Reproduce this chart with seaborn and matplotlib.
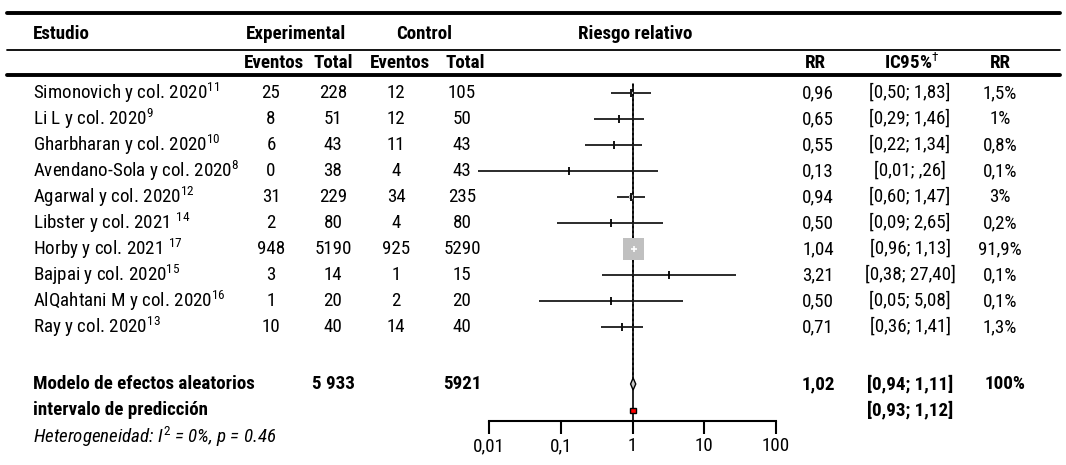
import numpy as np
import pandas as pd
import matplotlib
matplotlib.use('Agg')
import matplotlib.pyplot as plt
from matplotlib import font_manager
import seaborn as sns

# data
studies = ['Simonovich y col. 2020$^{11}$', 'Li L y col. 2020$^{9}$', 'Gharbharan y col. 2020$^{10}$',
           'Avendano-Sola y col. 2020$^{8}$', 'Agarwal y col. 2020$^{12}$', 'Libster y col. 2021 $^{14}$',
           'Horby y col. 2021 $^{17}$', 'Bajpai y col. 2020$^{15}$', 'AlQahtani M y col. 2020$^{16}$',
           'Ray y col. 2020$^{13}$']
exp_events = [25, 8, 6, 0, 31, 2, 948, 3, 1, 10]
exp_total = [228, 51, 43, 38, 229, 80, 5190, 14, 20, 40]
ctrl_events = [12, 12, 11, 4, 34, 4, 925, 1, 2, 14]
ctrl_total = [105, 50, 43, 43, 235, 80, 5290, 15, 20, 40]
rr = [0.96, 0.65, 0.55, 0.13, 0.94, 0.50, 1.04, 3.21, 0.50, 0.71]
ci_lo = [0.50, 0.29, 0.22, 0.007, 0.60, 0.09, 0.96, 0.38, 0.05, 0.36]
ci_hi = [1.83, 1.46, 1.34, 2.26, 1.47, 2.65, 1.13, 27.40, 5.08, 1.41]
ci_text = ['[0,50; 1,83]', '[0,29; 1,46]', '[0,22; 1,34]', '[0,01; ,26]', '[0,60; 1,47]',
           '[0,09; 2,65]', '[0,96; 1,13]', '[0,38; 27,40]', '[0,05; 5,08]', '[0,36; 1,41]']
weights = [1.5, 1.0, 0.8, 0.1, 3.0, 0.2, 91.9, 0.1, 0.1, 1.3]

pooled_rr, pooled_lo, pooled_hi = 1.02, 0.94, 1.11
pred_lo, pred_hi = 0.93, 1.12
pooled_exp_total, pooled_ctrl_total = '5 933', '5921'
ticks = [0.01, 0.1, 1, 10, 100]
tick_labels = ['0,01', '0,1', '1', '10', '100']

df = pd.DataFrame({'study': studies, 'rr': rr, 'lo': ci_lo, 'hi': ci_hi, 'w': weights})

sns.set_theme(style='white')
# pick a narrow sans that is actually installed
installed = {f.name for f in font_manager.fontManager.ttflist}
wanted = ['Liberation Sans Narrow', 'Roboto Condensed', 'DejaVu Sans Condensed', 'Liberation Sans']
main_font = next((f for f in wanted if f in installed), 'DejaVu Sans')
plt.rcParams['font.family'] = [main_font, 'DejaVu Sans']
plt.rcParams['mathtext.fontset'] = 'custom'
plt.rcParams['mathtext.rm'] = main_font
plt.rcParams['mathtext.it'] = main_font + ':italic'
plt.rcParams['mathtext.bf'] = main_font + ':bold'
plt.rcParams['text.color'] = 'black'
plt.rcParams['xtick.color'] = 'black'

W, H = 1066, 465
fig = plt.figure(figsize=(W / 100, H / 100), dpi=100)
bg = fig.add_axes([0, 0, 1, 1])
bg.set_xlim(0, W)
bg.set_ylim(H, 0)
bg.axis('off')

fs = 13.7
row_y = 93 + 26 * np.arange(len(studies))
y_pool, y_pred, y_het = 384, 410, 437
x_name, x_ee, x_et, x_ce, x_ct = 33, 271, 333, 396, 462
x_rr, x_ci, x_w = 818, 910, 1000

# table rules
bg.plot([7, 1060], [13, 13], color='black', lw=2.8)
bg.plot([7, 1060], [50, 50], color='black', lw=1.3)
bg.plot([7, 1060], [75, 75], color='black', lw=2.8)

# headers
hd = dict(fontsize=fs, fontweight='bold', va='center')
bg.text(x_name, 34, 'Estudio', ha='left', **hd)
bg.text(296, 34, 'Experimental', ha='center', **hd)
bg.text(424, 34, 'Control', ha='center', **hd)
bg.text(578, 34, 'Riesgo relativo', ha='left', **hd)
for x, s in [(x_ee + 3, 'Eventos'), (x_et, 'Total'), (x_ce + 4, 'Eventos'), (x_ct + 3, 'Total'),
             (x_rr - 3, 'RR'), (x_ci + 2, r'IC95%$^{\dag}$'), (x_w, 'RR')]:
    bg.text(x, 63, s, ha='center', **hd)

# study rows
for i, y in enumerate(row_y):
    bg.text(x_name, y, studies[i], ha='left', va='center', fontsize=fs)
    bg.text(x_ee, y, str(exp_events[i]), ha='center', va='center', fontsize=fs)
    bg.text(x_et, y, str(exp_total[i]), ha='center', va='center', fontsize=fs)
    bg.text(x_ce, y, str(ctrl_events[i]), ha='center', va='center', fontsize=fs)
    bg.text(x_ct, y, str(ctrl_total[i]), ha='center', va='center', fontsize=fs)
    bg.text(x_rr, y, f'{rr[i]:.2f}'.replace('.', ','), ha='center', va='center', fontsize=fs)
    bg.text(x_ci, y, ci_text[i], ha='center', va='center', fontsize=fs)
    bg.text(x_w, y, f'{weights[i]:g}%'.replace('.', ','), ha='center', va='center', fontsize=fs)

# summary rows
sb = dict(fontsize=fs, fontweight='bold', va='center')
bg.text(x_name, y_pool, 'Modelo de efectos aleatorios', ha='left', **sb)
bg.text(x_name, y_pred, 'intervalo de predicción', ha='left', **sb)
bg.text(x_et, y_pool, pooled_exp_total, ha='center', **sb)
bg.text(x_ct, y_pool, pooled_ctrl_total, ha='center', **sb)
bg.text(x_rr, y_pool, f'{pooled_rr:.2f}'.replace('.', ','), ha='center', **sb)
bg.text(x_ci, y_pool, f'[{pooled_lo:.2f}; {pooled_hi:.2f}]'.replace('.', ','), ha='center', **sb)
bg.text(x_w + 5, y_pool, '100%', ha='center', **sb)
bg.text(x_ci, y_pred, f'[{pred_lo:.2f}; {pred_hi:.2f}]'.replace('.', ','), ha='center', **sb)
bg.text(x_name, y_het, r'Heterogeneidad: $\mathit{I}^{2}$ = 0%, $\mathit{p}$ = 0.46',
        ha='left', va='center', fontsize=fs, style='italic')

# forest panel, y in pixel units so rows line up with the table
x0, x1, ybot, ytop = 489, 776, 421, 80
ax = fig.add_axes([x0 / W, (H - ybot) / H, (x1 - x0) / W, (ybot - ytop) / H])
ax.set_xscale('log')
ax.set_xlim(0.01, 100)
ax.set_ylim(ybot, ytop)
ax.patch.set_alpha(0)
for s in ['left', 'right', 'top']:
    ax.spines[s].set_visible(False)
ax.spines['bottom'].set_linewidth(1.5)
ax.spines['bottom'].set_color('black')
ax.set_xticks(ticks)
ax.set_xticklabels(tick_labels, fontsize=fs)
ax.minorticks_off()
ax.tick_params(axis='x', direction='out', length=9.5, width=1.5, pad=2, color='black', bottom=True)
ax.set_yticks([])

ax.plot([1, 1], [84, ybot], color='black', lw=1.2, clip_on=False)
ax.plot([pooled_rr, pooled_rr], [84, y_pool - 6], color='black', lw=1.1, ls=(0, (1.6, 1.6)))

df['y'] = row_y
ax.hlines(df['y'], df['lo'], df['hi'], color='#1a1a1a', lw=1.3, clip_on=False)
sq = 240 * df['w'] / df['w'].max()
ax.scatter(df['rr'], df['y'], s=sq, marker='s', color='#c0c0c0', lw=0, zorder=3)
small = df[df['w'] < 50]
big = df[df['w'] >= 50]
sns.scatterplot(data=small, x='rr', y='y', marker='|', s=40, color='black', linewidth=1.3,
                ax=ax, zorder=4, legend=False)
sns.scatterplot(data=big, x='rr', y='y', marker='+', s=25, color='white', linewidth=1.2,
                ax=ax, zorder=4, legend=False)
ax.set_xlabel('')
ax.set_ylabel('')

dh = 6
ax.fill([pooled_lo, pooled_rr, pooled_hi, pooled_rr], [y_pool, y_pool - dh, y_pool, y_pool + dh],
        facecolor='#c8c8c8', edgecolor='black', lw=1, zorder=5)
ax.fill([pred_lo, pred_hi, pred_hi, pred_lo], [y_pred - 2.5, y_pred - 2.5, y_pred + 2.5, y_pred + 2.5],
        facecolor='red', edgecolor='black', lw=1, zorder=5)

fig.savefig('out.png', dpi=100)
